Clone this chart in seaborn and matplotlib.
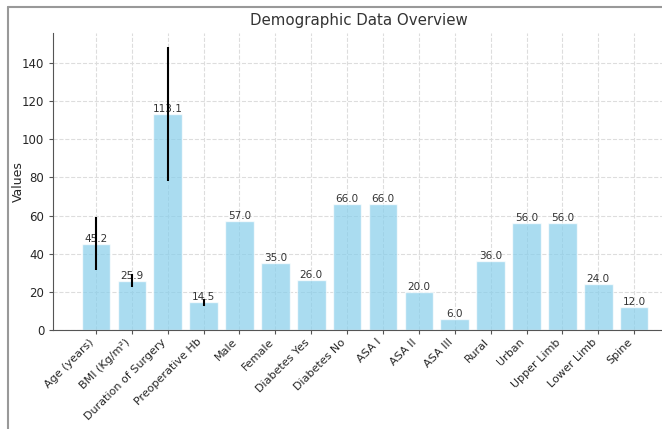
import numpy as np
import pandas as pd
import seaborn as sns
import matplotlib.pyplot as plt
from matplotlib.lines import Line2D

# 資料
categories = ["Age (years)", "BMI (Kg/m²)", "Duration of Surgery", "Preoperative Hb",
              "Male", "Female", "Diabetes Yes", "Diabetes No", "ASA I", "ASA II",
              "ASA III", "Rural", "Urban", "Upper Limb", "Lower Limb", "Spine"]
values = [45.2, 25.9, 113.1, 14.5, 57.0, 35.0, 26.0, 66.0, 66.0, 20.0,
          6.0, 36.0, 56.0, 56.0, 24.0, 12.0]
errors = [14.0, 3.5, 35.0, 2.0, 0, 0, 0, 0, 0, 0, 0, 0, 0, 0, 0, 0]

df = pd.DataFrame({"Category": categories, "Value": values, "SD": errors})

sns.set_style("whitegrid", {"grid.linestyle": "--", "grid.color": "#dddddd",
                            "axes.edgecolor": "#555555"})
plt.rcParams["font.family"] = ["DejaVu Sans"]

fig = plt.figure(figsize=(6.62, 4.29), dpi=100)
ax = fig.add_axes([0.0805, 0.2308, 0.9419, 0.6923])

sns.barplot(data=df, x="Category", y="Value", color="skyblue", alpha=0.7,
            saturation=1, width=0.8, errorbar=None, ax=ax)

# 誤差線
has_err = df["SD"] > 0
ax.errorbar(np.arange(len(df))[has_err], df["Value"][has_err], yerr=df["SD"][has_err],
            fmt="none", ecolor="black", elinewidth=1.5, capsize=0, zorder=5)

# 數值標籤
for i, v in enumerate(values):
    ax.text(i, v, f"{v:.1f}", ha="center", va="bottom", fontsize=7.5, color="#333333")

ax.set_xlim(-1.19, 16.19)
ax.set_ylim(0, 155.7)
ax.set_xlabel("")
ax.set_ylabel("Values", fontsize=9)
ax.yaxis.set_label_coords(-0.045, 0.5)
ax.set_title("Demographic Data Overview", fontsize=10.8, color="#333333", x=0.49)
ax.tick_params(axis="x", labelsize=8, length=3, pad=2, bottom=True, color="#555555")
ax.tick_params(axis="y", labelsize=8.5, length=3, left=True, color="#555555")
plt.setp(ax.get_xticklabels(), rotation=45, ha="right")
ax.grid(True, axis="both")
sns.despine(ax=ax)

# 文件邊框
fig.add_artist(Line2D([8 / 662, 8 / 662], [0, 1 - 7 / 429], color="#999999", lw=1.5))
fig.add_artist(Line2D([8 / 662, 1], [1 - 7 / 429, 1 - 7 / 429], color="#999999", lw=1.5))

fig.savefig("out.png", dpi=100)
